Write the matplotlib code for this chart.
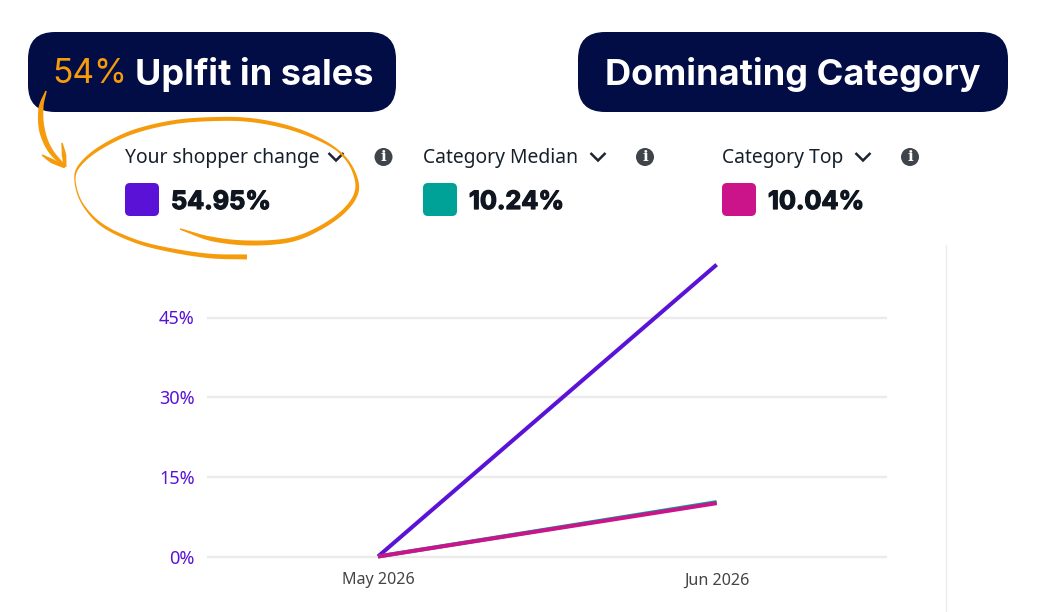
import numpy as np
import matplotlib
matplotlib.use("Agg")
import matplotlib.pyplot as plt
import matplotlib.patheffects as pe
from matplotlib.patches import FancyBboxPatch, Polygon, Circle

W, H = 1042, 612
months = ["May 2026", "Jun 2026"]
your_shopper = [0, 54.95]
cat_median = [0, 10.24]
cat_top = [0, 10.04]
y_ticks = [0, 15, 30, 45]
y_tick_labels = ["0%", "15%", "30%", "45%"]
legend_names = ["Your shopper change", "Category Median", "Category Top"]
legend_values = ["54.95%", "10.24%", "10.04%"]

PURPLE = "#5A12D6"
TEAL = "#00A298"
MAGENTA = "#CB1489"
ORANGE = "#F59B0C"
NAVY = "#020C45"
DARK = "#0F1620"

fig = plt.figure(figsize=(W / 100, H / 100), dpi=100, facecolor="white")

# chart axes, in figure pixels: x 208..886, y(0)=556.5, top=246
left, right, bottom, top = 208, 886, 556.5, 246
ax = fig.add_axes([left / W, 1 - bottom / H, (right - left) / W, (bottom - top) / H])
ax.set_xlim(-0.502, 1.5)
ax.set_ylim(0, (bottom - top) / (239 / 45))
ax.patch.set_visible(False)
for s in ax.spines.values():
    s.set_visible(False)
ax.set_yticks(y_ticks, y_tick_labels, color=PURPLE, fontsize=13, family="Noto Sans")
ax.set_xticks(range(len(months)), months, color="#444444", fontsize=11.6, family="Noto Sans")
ax.tick_params(axis="both", length=0)
ax.tick_params(axis="y", pad=9.5)
ax.tick_params(axis="x", pad=11.5)
ax.grid(axis="y", color="#EBEBEB", lw=1.7, clip_on=False)
ax.set_axisbelow(True)
x = np.arange(len(months))
for series, col in [(your_shopper, PURPLE), (cat_median, TEAL), (cat_top, MAGENTA)]:
    ax.plot(x, series, color=col, lw=2.9, solid_capstyle="butt", clip_on=False, zorder=3)

# overlay in pixel coordinates
ov = fig.add_axes([0, 0, 1, 1], zorder=5)
ov.set_xlim(0, W)
ov.set_ylim(H, 0)
ov.axis("off")
ov.patch.set_visible(False)

ov.plot([945.5, 945.5], [245, 612], color="#EDEDED", lw=1)

def bubble(x0, y0, x1, y1, r=27):
    ov.add_patch(FancyBboxPatch((x0 + r, y0 + r), x1 - x0 - 2 * r, y1 - y0 - 2 * r,
                                boxstyle=f"round,pad={r},rounding_size={r}",
                                fc=NAVY, ec="none", mutation_aspect=1))

bubble(28, 32, 396, 112)
bubble(578, 32, 1008, 112)
ov.text(52, 70.5, "54%", color=ORANGE, fontsize=24.2, family="Inter", fontweight="normal", va="center_baseline")
ov.text(135, 70.5, "Uplfit in sales", color="white", fontsize=26, family="Inter", fontweight="bold", va="center_baseline")
ov.text(605, 70.5, "Dominating Category", color="white", fontsize=26.05, family="Inter", fontweight="bold", va="center_baseline")

def catmull(pts, n=24):
    p = np.array(pts, float)
    p = np.vstack([2 * p[0] - p[1], p, 2 * p[-1] - p[-2]])
    out = []
    for i in range(1, len(p) - 2):
        t = np.linspace(0, 1, n, endpoint=False)[:, None]
        a, b, c, d = p[i - 1], p[i], p[i + 1], p[i + 2]
        out.append(0.5 * (2 * b + (c - a) * t + (2 * a - 5 * b + 4 * c - d) * t ** 2 + (3 * b - a - 3 * c + d) * t ** 3))
    out.append(p[-2][None])
    return np.vstack(out)

def brush(pts, widths):
    c = catmull(pts)
    s = np.linspace(0, 1, len(c))
    w = np.interp(s, np.linspace(0, 1, len(widths)), widths)
    d = np.gradient(c, axis=0)
    nrm = np.c_[-d[:, 1], d[:, 0]] / np.maximum(np.hypot(d[:, 0], d[:, 1]), 1e-6)[:, None]
    ov.add_patch(Polygon(np.vstack([c + nrm * w[:, None] / 2, (c - nrm * w[:, None] / 2)[::-1]]),
                         fc=ORANGE, ec="none", closed=True, zorder=6))

# hand-drawn ring
brush([(180, 229), (212, 239), (250, 243), (290, 240), (320, 228), (345, 210), (357, 190), (352, 168),
       (337, 150), (312, 136), (283, 126), (250, 120), (217, 119), (175, 122), (133, 132), (100, 148),
       (80, 165), (75, 180), (82, 203), (102, 225), (135, 241), (170, 250), (210, 256), (247, 257)],
      [1.5, 4.5, 5, 4.5, 4, 4, 4, 2.5, 2, 3.5, 4, 4, 4, 4, 4, 3.5, 2.5, 1.2, 1.5, 3, 3.5, 4, 4.5, 5])
# hand-drawn arrow
brush([(46, 91), (41, 108), (42, 130), (50, 150), (65, 167)], [1.5, 5, 6, 5, 3])
brush([(42, 155), (52, 161), (65, 167)], [1.5, 4.5, 3])
brush([(62, 143), (64, 155), (65, 167)], [1.5, 4.5, 3])

# legend row
legend_x = [125, 423, 722]
chevron_x = [336, 598, 863]
info_x = [383.5, 645, 910]
value_x = [171, 469, 768]
swatch_cols = [PURPLE, TEAL, MAGENTA]
for name, val, lx, cx, ix, vx, col in zip(legend_names, legend_values, legend_x, chevron_x, info_x, value_x, swatch_cols):
    ov.text(lx, 156, name, color="#16202B", fontsize=13.9, family="Noto Sans", va="center_baseline")
    ov.plot([cx - 7.5, cx, cx + 7.5], [153, 160.5, 153], color="#1C2430", lw=1.8,
            solid_joinstyle="miter", solid_capstyle="butt")
    ov.add_patch(Circle((ix, 157), 9, fc="#3F444A", ec="none"))
    ov.text(ix, 157, "i", color="white", fontsize=11, family="DejaVu Serif", fontweight="bold",
            ha="center", va="center")
    ov.add_patch(FancyBboxPatch((lx + 5, 188), 24, 23, boxstyle="round,pad=5,rounding_size=5",
                                fc=col, ec="none", zorder=3))
    ov.text(vx, 200, val, color=DARK, fontsize=18.2, family="Inter", fontweight="bold", va="center_baseline",
            path_effects=[pe.withStroke(linewidth=0.9, foreground=DARK)])

fig.savefig("out.png", dpi=100)
